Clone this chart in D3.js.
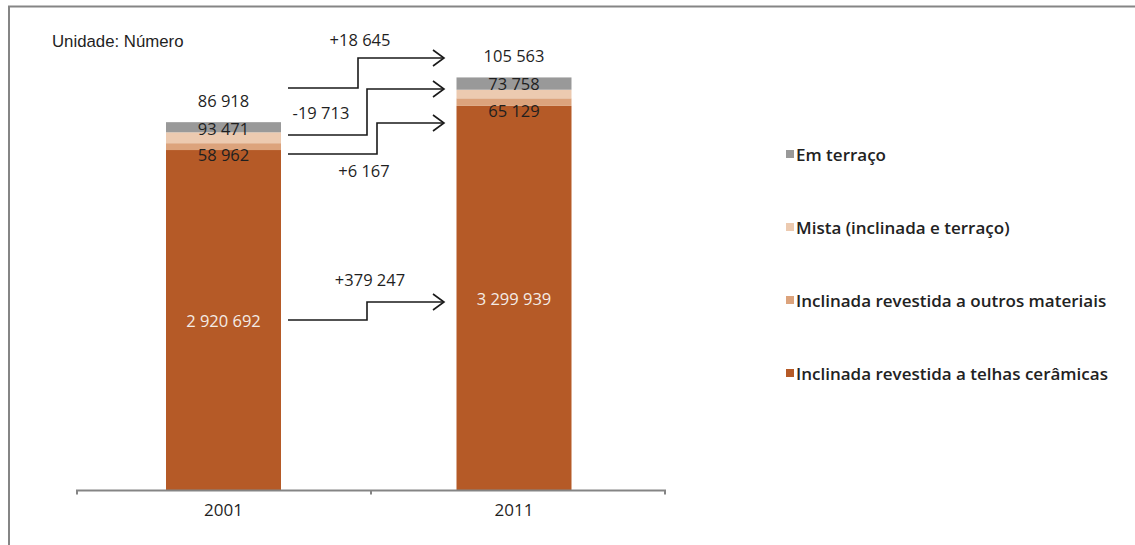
<!DOCTYPE html>
<html>
<head>
<meta charset="utf-8">
<script src="https://cdn.jsdelivr.net/npm/d3@7"></script>
<style>
  html, body { margin: 0; padding: 0; background: #fff; }
  svg { display: block; }
  text { font-family: "Open Sans", "DejaVu Sans", sans-serif; fill: #1f1f1f; }
</style>
</head>
<body>
<svg id="chart" width="1135" height="545"></svg>
<script>
// Census years and roof-type categories (stack order bottom → top)
const years = ["2001", "2011"];
const seriesNames = [
  "Inclinada revestida a telhas cerâmicas",
  "Inclinada revestida a outros materiais",
  "Mista (inclinada e terraço)",
  "Em terraço"
];
const telhasCeramicas = [2920692, 3299939];
const outrosMateriais = [58962, 65129];
const mista = [93471, 73758];
const emTerraco = [86918, 105563];
const seriesColors = ["#b55a27", "#dca37c", "#eccab0", "#999999"];

// Changes 2001 → 2011 per category
const variacoes = ["+379 247", "+6 167", "-19 713", "+18 645"];

const fmt = v => d3.format(",")(v).replace(/,/g, " ");

const svg = d3.select("#chart");

// Frame lines (top and left)
svg.append("path")
  .attr("d", "M9,545 V6.5 H1135")
  .attr("fill", "none")
  .attr("stroke", "#858585")
  .attr("stroke-width", 2);

svg.append("text")
  .attr("x", 52).attr("y", 47)
  .style("font-family", "'Liberation Sans', Arial, sans-serif")
  .style("font-size", "16.8px")
  .text("Unidade: Número");

// Scales: bar centres, and the axis span with a divider between the two years
const xc = d3.scalePoint().domain(years).range([223.5, 514]);
const xAxisBand = d3.scaleBand().domain(years).range([77, 665]);
const barW = 115;
const y = d3.scaleLinear().domain([0, 4000000]).range([490, 24.4]);

const rows = years.map((yr, i) => ({
  year: yr,
  [seriesNames[0]]: telhasCeramicas[i],
  [seriesNames[1]]: outrosMateriais[i],
  [seriesNames[2]]: mista[i],
  [seriesNames[3]]: emTerraco[i]
}));
const stacked = d3.stack().keys(seriesNames)(rows);

// Bars
svg.append("g").selectAll("g")
  .data(stacked)
  .join("g")
  .attr("fill", (d, i) => seriesColors[i])
  .selectAll("rect")
  .data(d => d)
  .join("rect")
  .attr("x", d => xc(d.data.year) - barW / 2)
  .attr("width", barW)
  .attr("y", d => y(d[1]))
  .attr("height", d => y(d[0]) - y(d[1]));

// X axis: baseline with ticks at the band edges
const [ax0, ax1] = xAxisBand.range();
const edges = [ax0, ...years.slice(1).map(d => xAxisBand(d)), ax1];
const axG = svg.append("g");
axG.append("path")
  .attr("d", `M${ax0},${y(0) + 4.5} V${y(0) + 0.5} H${ax1} V${y(0) + 4.5}`)
  .attr("fill", "none")
  .attr("stroke", "#858585")
  .attr("stroke-width", 2);
axG.selectAll("line.tk")
  .data(edges.slice(1, -1))
  .join("line")
  .attr("class", "tk")
  .attr("x1", d => d).attr("x2", d => d)
  .attr("y1", y(0) + 0.5).attr("y2", y(0) + 4.5)
  .attr("stroke", "#858585").attr("stroke-width", 2);
axG.selectAll("text.yr")
  .data(years)
  .join("text")
  .attr("class", "yr")
  .attr("x", d => xc(d))
  .attr("y", y(0) + 26)
  .attr("text-anchor", "middle")
  .style("font-size", "17px")
  .text(d => d);

// Value labels: main segment centred in white, small segments near the top of the stack
const labelFont = "16.5px";
years.forEach((yr, i) => {
  const cx = xc(yr);
  const t = stacked.map(s => s[i]);
  svg.append("text")
    .attr("x", cx).attr("y", y((t[0][0] + t[0][1]) / 2) + 7)
    .attr("text-anchor", "middle")
    .style("font-size", labelFont)
    .style("fill", "#f4ece6")
    .text(fmt(telhasCeramicas[i]));
  // outros materiais label (just below the top of the main segment)
  svg.append("text")
    .attr("x", cx).attr("y", y(t[0][1]) + 11)
    .attr("text-anchor", "middle")
    .style("font-size", labelFont)
    .text(fmt(outrosMateriais[i]));
  // mista label (over the terraço segment)
  svg.append("text")
    .attr("x", cx).attr("y", y(t[3][1]) + 12.5)
    .attr("text-anchor", "middle")
    .style("font-size", labelFont)
    .text(fmt(mista[i]));
  // terraço label above the bar
  svg.append("text")
    .attr("x", cx).attr("y", y(t[3][1]) - 15.5)
    .attr("text-anchor", "middle")
    .style("font-size", labelFont)
    .text(fmt(emTerraco[i]));
});

// Change arrows between the two years
const arrowStartX = 288, arrowEndX = 444;
const arrows = [
  { y0: 320, y1: 302, xs: 367, label: variacoes[0], lx: 370, ly: 286 },
  { y0: 154, y1: 123, xs: 377, label: variacoes[1], lx: 364, ly: 177 },
  { y0: 135, y1: 89,  xs: 367, label: variacoes[2], lx: 321, ly: 119 },
  { y0: 88,  y1: 58,  xs: 358, label: variacoes[3], lx: 360, ly: 46 }
];
const ag = svg.append("g");
arrows.forEach(a => {
  ag.append("path")
    .attr("d", `M${arrowStartX},${a.y0} H${a.xs} V${a.y1} H${arrowEndX}`)
    .attr("fill", "none").attr("stroke", "#1a1a1a").attr("stroke-width", 1.6);
  ag.append("path")
    .attr("d", `M${arrowEndX - 11},${a.y1 - 8} L${arrowEndX},${a.y1} L${arrowEndX - 11},${a.y1 + 8}`)
    .attr("fill", "none").attr("stroke", "#1a1a1a").attr("stroke-width", 1.6);
  ag.append("text")
    .attr("x", a.lx).attr("y", a.ly)
    .attr("text-anchor", "middle")
    .style("font-size", labelFont)
    .text(a.label);
});

// Legend (top entry = top of stack)
const legendOrder = seriesNames.map((n, i) => ({ name: n, color: seriesColors[i] })).reverse();
const lg = svg.append("g").attr("transform", "translate(786,0)");
const legY = d3.scalePoint().domain(legendOrder.map(d => d.name)).range([155, 374]);
legendOrder.forEach(d => {
  lg.append("rect")
    .attr("x", 0).attr("y", legY(d.name) - 5)
    .attr("width", 8).attr("height", 8)
    .attr("fill", d.color);
  lg.append("text")
    .attr("x", 10).attr("y", legY(d.name) + 5.5)
    .style("font-size", "17px")
    .style("font-weight", "600")
    .style("fill", "#222")
    .text(d.name);
});
</script>
</body>
</html>
